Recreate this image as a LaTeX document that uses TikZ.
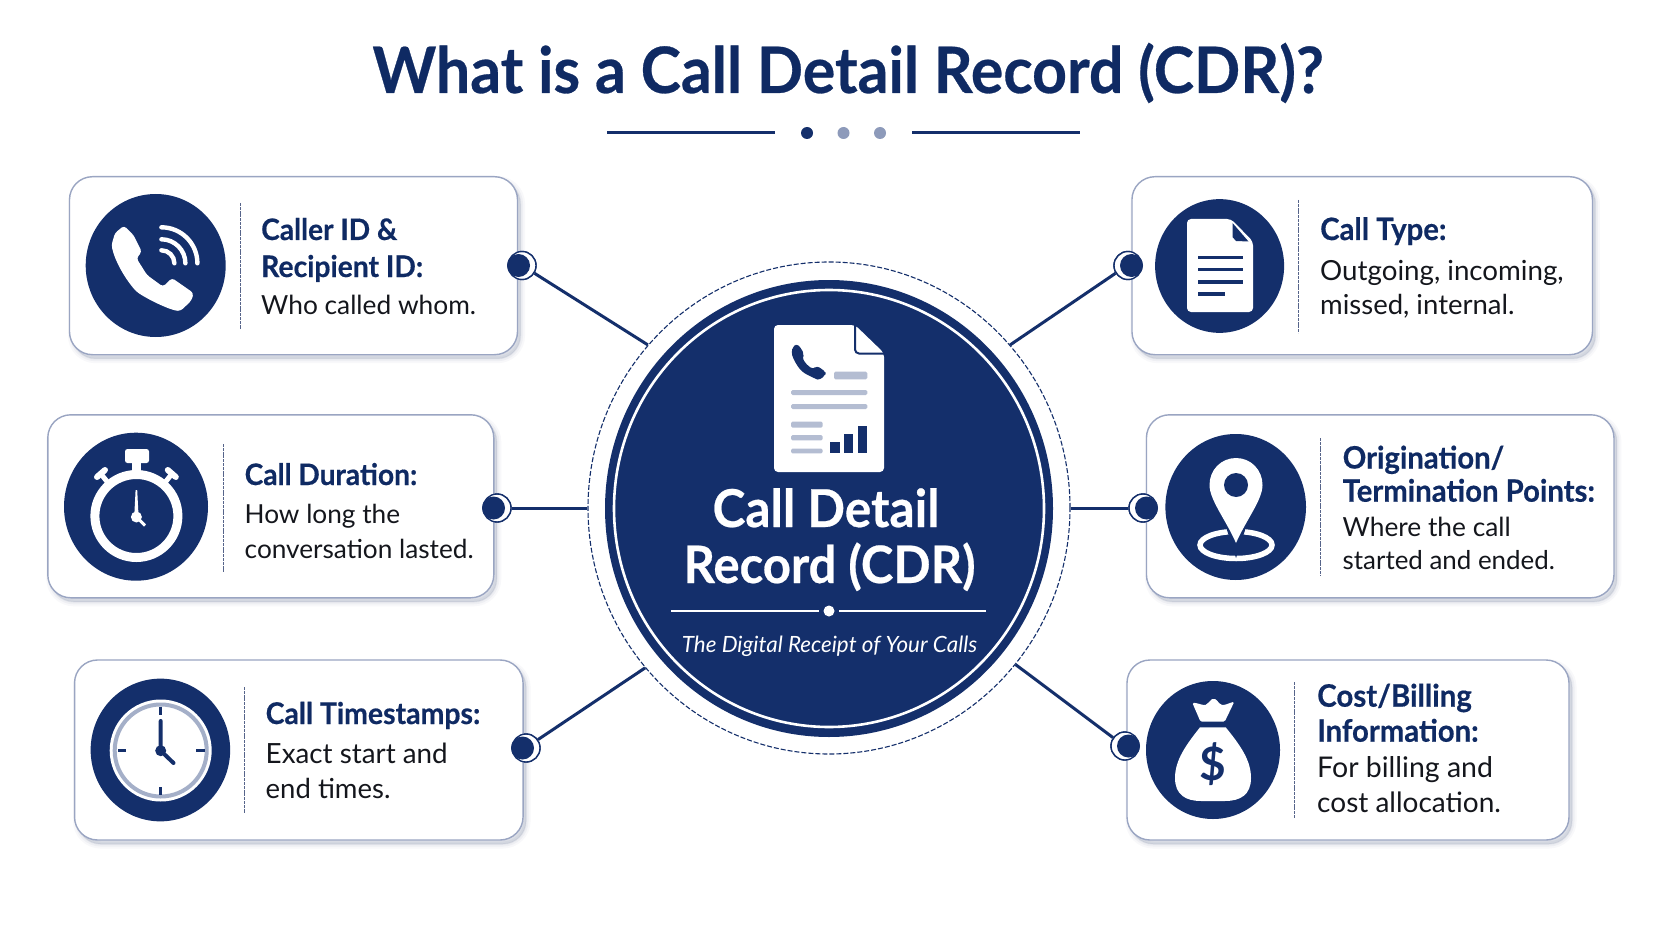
\documentclass[tikz,border=0pt]{standalone}
\usepackage{fontspec}
\usetikzlibrary{shapes.geometric}
\setmainfont{Lato}
\newfontfamily\heavyfont{Lato}[BoldFeatures={FakeStretch=.95,FakeBold=.45}]
\definecolor{navy}{HTML}{142F6B}
\definecolor{headc}{HTML}{0F2A63}
\definecolor{bodyc}{HTML}{14161C}
\definecolor{edge}{HTML}{9AA5C2}
\definecolor{shade}{HTML}{56648A}
\definecolor{barc}{HTML}{B4BDD2}
\definecolor{dotc}{HTML}{8D9ABA}
\tikzset{
  x=1pt,y=-1pt,
  cardbox/.style={rectangle,rounded corners=23pt,draw=edge,line width=1.4pt,fill=white,inner sep=0pt,
    preaction={draw=shade,fill=shade,opacity=.04,line width=9pt,transform canvas={xshift=3pt,yshift=-4pt}},
    preaction={draw=shade,fill=shade,opacity=.06,line width=5pt,transform canvas={xshift=3pt,yshift=-4pt}},
    preaction={draw=shade,fill=shade,opacity=.08,line width=1.5pt,transform canvas={xshift=3pt,yshift=-4pt}}},
  iconbg/.style={ellipse,fill=navy,inner sep=0pt},
  sep/.style={draw=shade,line width=1pt,dash pattern=on 3pt off .8pt},
  conn/.style={draw=navy,line width=3pt},
  joint/.style={circle,draw=navy,line width=1.4pt,fill=white,inner sep=0pt,minimum size=28pt},
  head/.style={anchor=base west,inner sep=0pt,text=headc,font=\fontsize{#1}{30}\selectfont\heavyfont\bfseries},
  body/.style={anchor=base west,inner sep=0pt,text=bodyc,font=\fontsize{#1}{30}\selectfont},
  barfill/.style={fill=barc,draw=none,rounded corners=1.5pt},
}
\newcommand{\handset}[4]{% x,y,scale,colour
  \fill[#4,rounded corners=3pt,shift={(#1,#2)},scale=#3]
    (-28.5,-42.3) -- (-19,-33) -- (-10.7,-16.3) -- (-16,-9.7) -- (-5.5,7) -- (10.5,18.7) -- (19.5,10) -- (41,25) -- (39.3,32) -- (28.5,42.7)
    .. controls (20,43) and (-2,33) .. (-16,23.7) .. controls (-28,10) and (-38,-8) .. (-41,-23) -- (-37.5,-35) -- cycle;}
\begin{document}
\begin{tikzpicture}
\useasboundingbox (0,0) rectangle (1672,941);
\fill[white] (0,0) rectangle (1672,941);

% title
\node[anchor=base,inner sep=0pt,text=headc,font=\fontsize{64}{70}\selectfont\heavyfont\bfseries] (title) at (848,93) {What is a Call Detail Record (CDR)?};
\draw[navy,line width=3pt] (607,133) -- (775,133) (912,133) -- (1080,133);
\fill[navy] (807,133) circle[radius=6];
\fill[dotc] (843.5,133) circle[radius=6];
\fill[dotc] (880,133) circle[radius=6];

% hub
\node[ellipse,draw=navy,line width=1.1pt,dash pattern=on 5pt off 2pt,inner sep=0pt,minimum width=482pt,minimum height=492pt] (hub) at (829,508) {};

% joints
\node[joint] (d1) at (522,265.5) {};
\node[joint] (d2) at (497,508) {};
\node[joint] (d3) at (526,748) {};
\node[joint] (d4) at (1128,265.5) {};
\node[joint] (d5) at (1143,508) {};
\node[joint] (d6) at (1125,746) {};

% connectors
\draw[conn] (d1.-32) -- (hub.138);
\draw[conn] (d2.0) -- (hub.180);
\draw[conn] (d3.35) -- (hub.221.5);
\draw[conn] (d4.212) -- (hub.42);
\draw[conn] (d5.180) -- (hub.0);
\draw[conn] (d6.145) -- (hub.320);

% cards
\node[cardbox,minimum width=448pt,minimum height=178pt] (c1) at (293.5,265.7) {};
\node[cardbox,minimum width=446pt,minimum height=183pt] (c2) at (270.8,506.3) {};
\node[cardbox,minimum width=448.5pt,minimum height=180pt] (c3) at (298.8,750) {};
\node[cardbox,minimum width=460.5pt,minimum height=178pt] (c4) at (1362.2,265.7) {};
\node[cardbox,minimum width=467.5pt,minimum height=183pt] (c5) at (1380.2,506.3) {};
\node[cardbox,minimum width=442pt,minimum height=180pt] (c6) at (1348,750) {};

% joints on top of the card edges
\foreach \n/\dx in {d1/-3.5,d2/-3.5,d3/-3.5,d4/3.5,d5/3.5,d6/3.5}{
  \node[joint] at (\n) {};
  \fill[navy] ([xshift=\dx pt]\n.center) circle[radius=11.5];
}

% dividers
\draw[sep] (240,203) -- (240,329);
\draw[sep] (223,444) -- (223,573);
\draw[sep] (244.6,687) -- (244.6,813);
\draw[sep] (1298,200) -- (1298,333);
\draw[sep] (1320.7,438) -- (1320.7,575);
\draw[sep] (1294.6,682) -- (1294.6,818);

% icon discs
\node[iconbg,minimum width=140pt,minimum height=143pt] (i1) at (155.7,265.5) {};
\node[iconbg,minimum width=144pt,minimum height=148pt] (i2) at (136,506.7) {};
\node[iconbg,minimum width=139.5pt,minimum height=142.7pt] (i3) at (160.4,750) {};
\node[iconbg,minimum width=129pt,minimum height=133.7pt] (i4) at (1219.6,266) {};
\node[iconbg,minimum width=140.6pt,minimum height=146pt] (i5) at (1235.7,507) {};
\node[iconbg,minimum width=134pt,minimum height=138pt] (i6) at (1213,750) {};

% icon 1: phone
\handset{152.5}{268}{1}{white}
\draw[white,line width=4.4pt,line cap=round]
  (161.4,250.3) arc[start angle=-90,end angle=0,radius=13]
  (161.4,239.3) arc[start angle=-90,end angle=0,radius=24]
  (161.4,227.3) arc[start angle=-90,end angle=0,radius=36];

% icon 2: stopwatch
\draw[white,line width=9pt] (136.4,516) circle[radius=41.5];
\fill[white,rounded corners=2.5pt] (125,449) rectangle (149,463);
\fill[white] (132,461) rectangle (141,472);
\draw[white,line width=5pt] (109,484) -- (101,474) (163.8,484) -- (171.8,474);
\draw[white,line width=6pt,line cap=round] (97,477) -- (105,470) (175.8,477) -- (167.8,470);
\fill[white] (135.6,490) -- (137.2,490) -- (138.6,517) -- (134.2,517) -- cycle;
\draw[white,line width=3pt] (136.4,517) -- (145,525.5);
\fill[white] (136.4,517) circle[radius=5.5];

% icon 3: clock
\fill[white] (160.7,750.5) circle[radius=51];
\draw[barc!90!navy,line width=4pt] (160.7,750.5) circle[radius=46];
\draw[navy,line width=3.4pt] (160.7,706.5) -- (160.7,715) (160.7,787) -- (160.7,795)
  (118,750.7) -- (126.4,750.7) (196,750.7) -- (205,750.7);
\draw[navy,line width=4pt,line cap=round] (160.7,721) -- (160.7,750.7) -- (173.5,763);
\fill[navy] (160.7,750.7) circle[radius=5.5];

% icon 4: document
\fill[white,rounded corners=4pt] (1187,219) -- (1231,219) -- (1253,241.5) [rounded corners=4pt] -- (1253,312) -- (1187,312) -- cycle;
\fill[navy] (1232.5,223) -- (1232.5,237) -- (1236,241) -- (1248.5,241.5) -- cycle;
\draw[navy,line width=3.2pt] (1198,257.7) -- (1243,257.7) (1198,269.7) -- (1243,269.7) (1198,282) -- (1243,282) (1198,294) -- (1225,294);

% icon 5: pin
\draw[white,line width=5.5pt] (1236,545) ellipse[x radius=36,y radius=13.5];
\fill[navy] (1236,558) -- (1225,524) -- (1247,524) -- cycle;
\fill[white] (1236,543) .. controls (1226,520) and (1209.5,500) .. (1209.5,485) .. controls (1209.5,470) and (1221,458) .. (1236,458)
   .. controls (1251,458) and (1262.5,470) .. (1262.5,485) .. controls (1262.5,500) and (1246,520) .. (1236,543) -- cycle;
\fill[navy] (1236,485) circle[radius=12];

% icon 6: money bag
\fill[white,rounded corners=1.5pt] (1192.3,702.7) .. controls (1198,703) and (1204,706) .. (1207,704) .. controls (1210,701) and (1212,699) .. (1213.6,699)
  .. controls (1216,699) and (1218,702) .. (1220,704) .. controls (1224,706) and (1229,703) .. (1234.3,701.7)
  -- (1224.7,721.7) -- (1200.5,721.7) -- cycle;
\fill[white] (1200,727.3) -- (1225.7,727.3) .. controls (1240,745) and (1251,760) .. (1251,778)
  .. controls (1251,795) and (1240,801) .. (1225,801) -- (1201,801)
  .. controls (1186,801) and (1175,795) .. (1175,778) .. controls (1175,760) and (1186,745) .. (1200,727.3) -- cycle;
\node[inner sep=0pt,text=navy,font=\fontsize{46}{50}\selectfont\bfseries] (dollar) at (1213,764) {\$};

% card text
\node[head=29.6] (t1a) at (261,240) {Caller ID \&};
\node[head=29.8] (t1b) at (261,277) {Recipient ID:};
\node[body=26.3] (t1c) at (261,314) {Who called whom.};
\node[head=29.6] (t2a) at (244.5,485) {Call Duration:};
\node[body=26.2] (t2b) at (244.5,523) {How long the};
\node[body=26.2] (t2c) at (244.5,558) {conversation lasted.};
\node[head=29.9] (t3a) at (265.5,724) {Call Timestamps:};
\node[body=27.8] (t3b) at (265.5,763) {Exact start and};
\node[body=27.5] (t3c) at (265.5,798) {end times.};
\node[head=30.8] (t4a) at (1320,240) {Call Type:};
\node[body=27.7] (t4b) at (1320,280) {Outgoing, incoming,};
\node[body=27.5] (t4c) at (1320,314) {missed, internal.};
\node[head=30.8] (t5a) at (1342.5,468.5) {Origination/};
\node[head=30.8] (t5b) at (1342.5,501.7) {Termination Points:};
\node[body=26.3] (t5c) at (1342.5,536.5) {Where the call};
\node[body=25.9] (t5d) at (1342.5,569) {started and ended.};
\node[head=31] (t6a) at (1317,706.7) {Cost/Billing};
\node[head=30.8] (t6b) at (1317,741.7) {Information:};
\node[body=28.5] (t6c) at (1317,777.5) {For billing and};
\node[body=28] (t6d) at (1317,812) {cost allocation.};

% centre disc
\node[ellipse,fill=navy,inner sep=0pt,minimum width=448pt,minimum height=457pt] (core) at (829,508.5) {};
\node[ellipse,draw=white,line width=2.6pt,inner sep=0pt,minimum width=430pt,minimum height=437pt] (halo) at (829,508.5) {};

% receipt
\fill[white,rounded corners=4pt] (774,325) -- (855,325) -- (884,353) -- (884,472) -- (774,472) -- cycle;
\draw[navy,line width=2pt,rounded corners=4pt] (855,325) -- (855,353.5) -- (884,353.5);
\handset{808.7}{361.5}{0.42}{navy}
\fill[barfill] (834,371.7) rectangle (867.3,379.3);
\fill[barfill] (791,390) rectangle (867.3,395);
\fill[barfill] (791,404) rectangle (867.3,409);
\fill[barfill] (791,421.7) rectangle (822.7,427.7);
\fill[barfill] (791,435) rectangle (822.7,440.3);
\fill[barfill] (791,448.7) rectangle (822.7,453.3);
\fill[navy] (830,442.3) rectangle (840,453.3);
\fill[navy] (844,434.3) rectangle (853.3,453.3);
\fill[navy] (857.7,425.7) rectangle (867.3,453.3);

\node[anchor=base,inner sep=0pt,text=white,font=\fontsize{52.2}{56}\selectfont\heavyfont\bfseries] (h1) at (826,527) {Call Detail};
\node[anchor=base,inner sep=0pt,text=white,font=\fontsize{51.6}{56}\selectfont\heavyfont\bfseries] (h2) at (829.5,583) {Record (CDR)};
\draw[white,line width=1.3pt] (671,611) -- (819,611) (839,611) -- (986,611);
\fill[white] (829,611) circle[radius=5.5];
\node[anchor=base,inner sep=0pt,text=white,font=\fontsize{22.4}{26}\selectfont\itshape] (tag) at (829.5,652) {The Digital Receipt of Your Calls};
\end{tikzpicture}
\end{document}
